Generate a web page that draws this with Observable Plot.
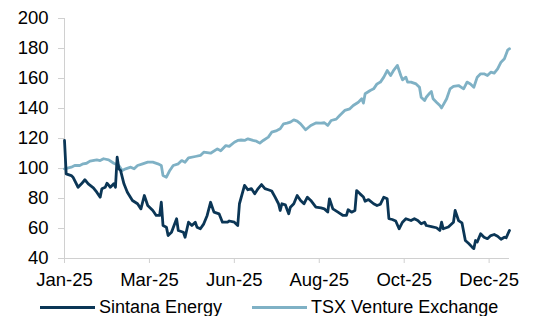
<!DOCTYPE html>
<html><head><meta charset="utf-8">
<script src="https://cdn.jsdelivr.net/npm/d3@7"></script>
<script src="https://cdn.jsdelivr.net/npm/@observablehq/plot@0.6"></script>
<style>
body{margin:0;background:#fff;font-family:"Liberation Sans",Arial,sans-serif;}
#legend{display:flex;align-items:center;height:24px;margin-top:3px;padding-left:40px;font-size:18px;color:#000;white-space:nowrap;}
.sw{display:inline-block;width:55px;height:3px;margin-right:4px;}
.item{display:flex;align-items:center;}
</style></head><body><div id="chart"></div><div id="legend"></div>
<script>
const tickDays = [0, 50, 100, 150, 200, 250];
const tickLabels = ["Jan-25", "Mar-25", "Jun-25", "Aug-25", "Oct-25", "Dec-25"];
const yTicks = [40, 60, 80, 100, 120, 140, 160, 180, 200];
const seriesNames = ["Sintana Energy", "TSX Venture Exchange"];
const seriesColors = ["#0b3656", "#7fb1c5"];

const sintanaDay = [0,1,4,5,8,10,12,14,17,19,21,22,24,25,27,29,30,31,32,33,35,37,40,43,45,47,49,52,54,56,57,58,60,61,63,66,67,70,71,73,75,77,78,80,82,84,86,88,91,93,96,97,100,102,103,106,108,110,112,114,116,118,120,122,124,126,127,128,130,132,133,135,137,139,141,143,145,148,151,153,155,156,158,161,164,166,167,169,171,172,174,176,177,179,182,184,186,188,190,191,193,195,197,199,201,204,206,208,210,212,213,216,219,221,222,223,226,229,230,232,234,236,238,240,241,242,243,245,247,249,251,253,255,257,259,260,262];
const sintanaValue = [118.7,96.4,95.3,94.2,87.5,89.8,92.5,89.8,87.1,84.2,80.9,86.5,87.5,90.2,87.5,89.8,87.5,107.5,99.8,98.7,89.8,84.2,78.7,76.5,73.1,82,75.3,72,68.7,68.7,77.5,62,60.9,55.3,57.5,66.5,58.7,57.5,54.2,64.2,62,64.2,60.9,59.8,63.1,68.7,77.5,70.9,69.8,64.2,64.2,65,64.2,62,76.5,88.7,85.8,86.6,83.1,86.6,89.3,86.6,85.8,85,80.9,76.5,72,76.5,75.8,69.8,74.2,76.5,82,78.7,76.5,80.9,78.7,74.2,73.7,73.1,71,79.8,73.1,70.9,68.7,68.7,72.5,70.9,72,85.3,83.1,81,78.2,79.3,76.5,75.3,76.2,80.9,79.8,66.5,66,65,59.8,64.2,66.5,65.3,66.5,65.3,63.1,64.2,62,61.3,60.5,58.7,64.2,59.8,61,64.2,72,65.3,63.8,52,50,47.6,46.6,52,51,56.5,54.2,53.2,55.3,56,54.8,52.8,54.2,53.8,58.7];

const tsxDay = [0,4,6,9,11,13,15,19,21,23,26,29,32,34,36,39,41,43,46,49,52,55,57,58,60,62,64,67,69,71,73,77,80,82,86,90,92,95,97,100,102,104,106,108,111,113,115,117,120,122,125,127,129,131,133,135,137,139,142,145,148,151,153,155,157,160,162,165,168,170,173,175,176,177,180,182,184,186,188,190,192,194,196,198,199,201,202,204,207,209,210,212,213,215,216,217,219,221,222,223,225,227,229,232,235,237,239,241,243,245,247,249,251,253,255,257,259,261,262];
const tsxValue = [99.8,100.9,102,102,103.1,103.5,104.9,105.8,105.3,106.5,105.8,103.5,102,98.7,99.8,100.9,99.8,102,103.1,104.2,104.2,103.1,102,95.3,94.2,98.7,102,103.1,105.3,104.2,107.1,108,108.7,110.9,110.2,113.1,111.8,115.3,114.7,117.5,118.7,119,118.7,119.8,118.7,118.2,116.9,118.7,120.9,124.2,125.3,126.5,129.8,130.2,130.9,132.4,131.6,129.8,125.8,128.7,130.4,130.2,130.5,128.7,132,132.9,135.3,138.7,139.8,142,144.2,146.5,143.6,149.8,152,153.1,156.4,157.6,160.9,165.3,162,165.8,168.7,162,159.1,160.9,157.6,157.6,156.4,154.2,147.5,145.3,147.5,150.2,151.3,146.5,144.2,142,140.4,142.4,146.5,153.1,154.7,155.3,153.1,157.6,156.4,154.2,160.9,163.1,163.1,162,164.2,163.6,166.4,170.9,173.1,179.1,179.8];

const sintana = sintanaDay.map((d, i) => ({day: d, value: sintanaValue[i], series: seriesNames[0]}));
const tsx = tsxDay.map((d, i) => ({day: d, value: tsxValue[i], series: seriesNames[1]}));

const axisColor = "#d0d0d0";
const chart = Plot.plot({
  width: 536,
  height: 292,
  marginLeft: 64,
  marginRight: 27,
  marginTop: 18,
  marginBottom: 34,
  style: {fontFamily: "'Liberation Sans', Arial, sans-serif", fontSize: "18.5px", color: "#000", background: "#fff"},
  x: {domain: [0, 262]},
  y: {domain: [40, 200]},
  color: {domain: seriesNames, range: seriesColors},
  marks: [
    Plot.ruleX([0], {stroke: axisColor}),
    Plot.ruleY([40], {stroke: axisColor}),
    Plot.axisY({ticks: yTicks, tickSize: 6, tickPadding: 10, stroke: axisColor, fill: "#000", fontSize: 18.5, label: null}),
    Plot.axisX({ticks: tickDays, tickFormat: (d) => tickLabels[tickDays.indexOf(d)], tickSize: 5, tickPadding: 9, stroke: axisColor, fill: "#000", fontSize: 18.5, label: null}),
    Plot.line(tsx, {x: "day", y: "value", stroke: "series", strokeWidth: 2.8, strokeLinejoin: "round"}),
    Plot.line(sintana, {x: "day", y: "value", stroke: "series", strokeWidth: 2.8, strokeLinejoin: "round"})
  ]
});
document.getElementById("chart").appendChild(chart);

const legend = document.getElementById("legend");
seriesNames.forEach((name, i) => {
  const item = document.createElement("span");
  item.className = "item";
  if (i > 0) item.style.marginLeft = "30px";
  const sw = document.createElement("span");
  sw.className = "sw";
  sw.style.background = seriesColors[i];
  item.appendChild(sw);
  item.appendChild(document.createTextNode(name));
  legend.appendChild(item);
});
</script>
</body></html>
